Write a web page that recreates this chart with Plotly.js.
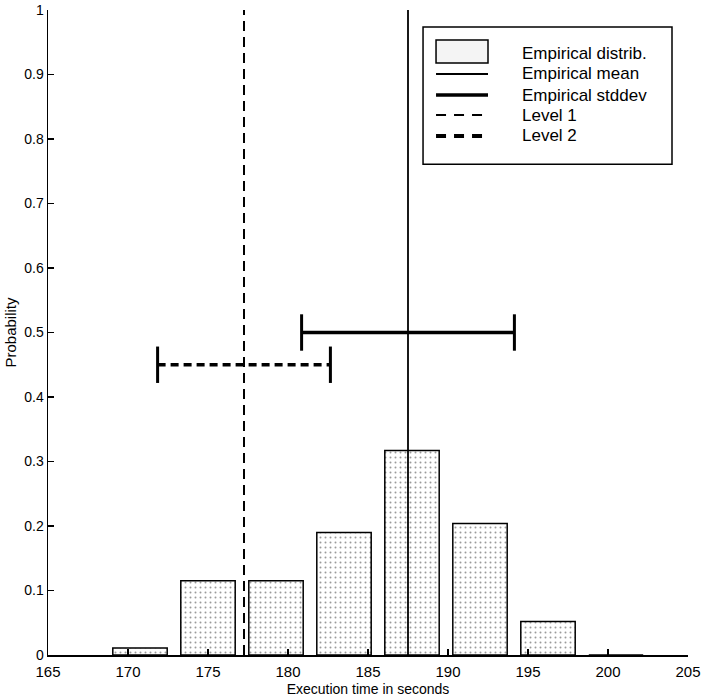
<!DOCTYPE html>
<html>
<head>
<meta charset="utf-8">
<script src="https://cdn.plot.ly/plotly-3.0.1.min.js"></script>
<style>html,body{margin:0;padding:0;background:#fff;}#chart{width:702px;height:700px;}</style>
</head>
<body>
<div id="chart"></div>
<script>
// ---- data ----
const binCenters = [170.75, 175.0, 179.25, 183.5, 187.75, 192.0, 196.25, 200.5];
const probabilities = [0.011, 0.115, 0.115, 0.19, 0.317, 0.204, 0.052, 0.0];
const empiricalMean = 187.5;
const empiricalStd = 6.65;
const stdLevelY = 0.5;
const level1Center = 177.25;
const level2Spread = 5.4;
const level2LevelY = 0.45;
const xTicks = [165, 170, 175, 180, 185, 190, 195, 200, 205];
const legendLabels = ["Empirical distrib.", "Empirical mean", "Empirical stddev", "Level 1", "Level 2"];

const FONT = "Liberation Sans, Arial, Helvetica, sans-serif";

const traces = [
  {
    type: "bar", x: binCenters, y: probabilities, width: 3.4,
    marker: {color: "#ffffff", line: {color: "#000", width: 1.5},
             pattern: {shape: ".", fgcolor: "#9a9a9a", bgcolor: "#ffffff", size: 5, solidity: 0.12}},
    showlegend: false, hoverinfo: "skip"
  },
  { // empirical mean
    type: "scatter", mode: "lines", x: [empiricalMean, empiricalMean], y: [0, 1],
    line: {color: "#000", width: 1.8}, showlegend: false
  },
  { // level 1
    type: "scatter", mode: "lines", x: [level1Center, level1Center], y: [0, 1],
    line: {color: "#000", width: 2, dash: "10px,6px"}, showlegend: false
  },
  { // empirical stddev
    type: "scatter", mode: "lines+markers",
    x: [empiricalMean - empiricalStd, empiricalMean + empiricalStd], y: [stdLevelY, stdLevelY],
    line: {color: "#000", width: 3.5},
    marker: {symbol: "line-ns-open", size: 26, color: "#000", line: {color: "#000", width: 3}},
    showlegend: false
  },
  { // level 2
    type: "scatter", mode: "lines+markers",
    x: [level1Center - level2Spread, level1Center + level2Spread], y: [level2LevelY, level2LevelY],
    line: {color: "#000", width: 3.5, dash: "8px,5px"},
    marker: {symbol: "line-ns-open", size: 26, color: "#000", line: {color: "#000", width: 3}},
    showlegend: false
  }
];

// ---- hand-drawn legend (paper coordinates) ----
const lgX0 = 0.586, lgX1 = 0.975, lgY0 = 0.761, lgY1 = 0.9736;
const symX0 = 0.6063, symX1 = 0.6875, txtX = 0.7375;
const rowY = [0.9333, 0.9008, 0.8682, 0.8372, 0.8047];
const legendLineStyles = [null, {width: 1.8}, {width: 3.5}, {width: 2, dash: "10px,8px"}, {width: 4, dash: "10px,8px"}];

const shapes = [
  {type: "rect", xref: "paper", yref: "paper", x0: lgX0, x1: lgX1, y0: lgY0, y1: lgY1,
   line: {color: "#000", width: 1.5}, fillcolor: "#fff", layer: "above"},
  {type: "rect", xref: "paper", yref: "paper", x0: symX0, x1: symX1, y0: 0.9178, y1: 0.9535,
   line: {color: "#000", width: 1.5}, fillcolor: "#f4f4f4", layer: "above"}
];
for (let i = 1; i < legendLabels.length; i++) {
  shapes.push({type: "line", xref: "paper", yref: "paper", x0: symX0, x1: symX1, y0: rowY[i], y1: rowY[i],
               line: Object.assign({color: "#000"}, legendLineStyles[i]), layer: "above"});
}
const annotations = legendLabels.map((t, i) => ({
  xref: "paper", yref: "paper", x: txtX, y: rowY[i], text: t, showarrow: false,
  xanchor: "left", yanchor: "middle", font: {family: FONT, size: 17, color: "#000"}
}));

const layout = {
  width: 702, height: 700,
  margin: {l: 48, r: 14, t: 10, b: 45},
  paper_bgcolor: "#fff", plot_bgcolor: "#fff",
  showlegend: false,
  font: {family: FONT, size: 14, color: "#000"},
  xaxis: {
    range: [165, 205], tickvals: xTicks, ticktext: xTicks.map(String),
    ticks: "inside", ticklen: 6, tickcolor: "#000", tickwidth: 1.2,
    showline: true, linecolor: "#000", linewidth: 1.5, mirror: false,
    showgrid: false, zeroline: false, ticklabelstandoff: 2,
    tickfont: {family: FONT, size: 15},
    title: {text: "Execution time in seconds", font: {family: FONT, size: 14}, standoff: 5}
  },
  yaxis: {
    range: [0, 1], dtick: 0.1, tick0: 0,
    ticks: "inside", ticklen: 6, tickcolor: "#000", tickwidth: 1.2,
    showline: true, linecolor: "#000", linewidth: 1.5, mirror: false,
    showgrid: false, zeroline: false,
    tickfont: {family: FONT, size: 14},
    title: {text: "Probability", font: {family: FONT, size: 15}, standoff: 4}
  },
  bargap: 0,
  shapes: shapes,
  annotations: annotations
};

Plotly.newPlot("chart", traces, layout, {displayModeBar: false, staticPlot: true});
</script>
</body>
</html>
